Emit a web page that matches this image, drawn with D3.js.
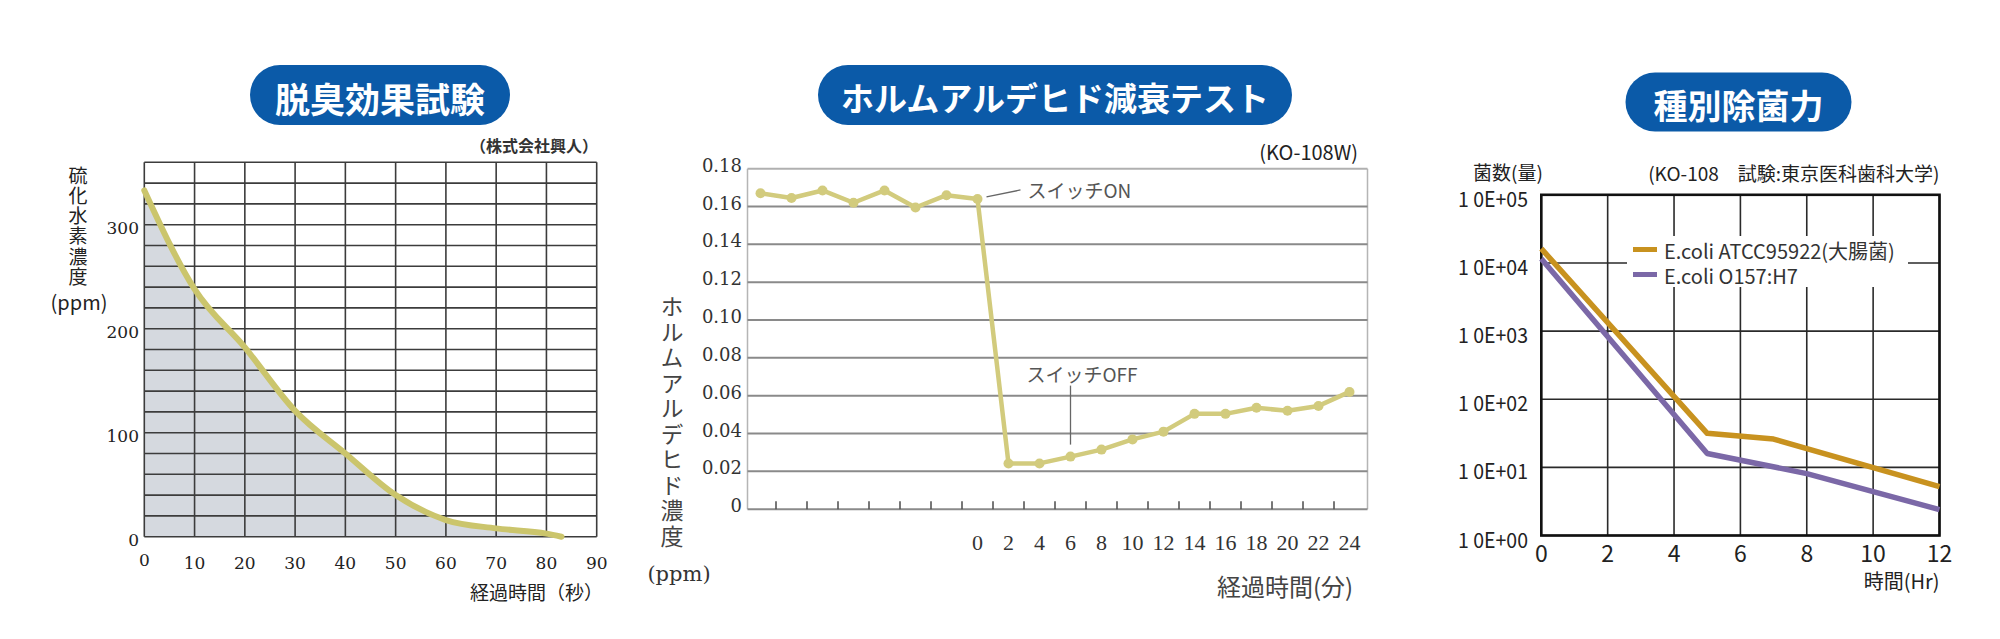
<!DOCTYPE html>
<html>
<head>
<meta charset="utf-8">
<script src="https://cdn.jsdelivr.net/npm/d3@7"></script>
<style>
  html, body { margin: 0; padding: 0; background: #fff; }
  svg { display: block; }
</style>
</head>
<body>
<script>
// ---------- DATA ----------
// Chart 1: 脱臭効果試験
const odorTitle = "脱臭効果試験";
const odorTime = [0, 10, 20, 30, 40, 50, 60, 70, 80, 83];
const odorH2S = [333, 238, 182, 121, 80, 40, 16, 8, 3, 0];
const odorXTicks = [0, 10, 20, 30, 40, 50, 60, 70, 80, 90];
const odorYTicks = [0, 100, 200, 300];
const odorGridY = [0, 20, 40, 60, 80, 100, 120, 140, 160, 180, 200, 220, 240, 260, 280, 300, 320, 340, 360];

// Chart 2: ホルムアルデヒド減衰テスト
const formTitle = "ホルムアルデヒド減衰テスト";
const formTime = [-14, -12, -10, -8, -6, -4, -2, 0, 2, 4, 6, 8, 10, 12, 14, 16, 18, 20, 22, 24];
const formConc = [0.167, 0.1645, 0.1685, 0.162, 0.1685, 0.1595, 0.166, 0.164,
                  0.0242, 0.0242, 0.0278, 0.0315, 0.0369, 0.041, 0.0504, 0.0504, 0.0536, 0.052, 0.0546, 0.062];
const formTickMarks = [-13, -11, -9, -7, -5, -3, -1, 1, 3, 5, 7, 9, 11, 13, 15, 17, 19, 21, 23];
const formXLabels = [0, 2, 4, 6, 8, 10, 12, 14, 16, 18, 20, 22, 24];
const formYTicks = [0, 0.02, 0.04, 0.06, 0.08, 0.10, 0.12, 0.14, 0.16, 0.18];
const formYLabels = ["0", "0.02", "0.04", "0.06", "0.08", "0.10", "0.12", "0.14", "0.16", "0.18"];

// Chart 3: 種別除菌力
const bactTitle = "種別除菌力";
const bactSeriesNames = ["E.coli ATCC95922(大腸菌)", "E.coli O157:H7"];
const atccTime = [0, 5, 7, 12];
const atccCount = [16200, 31.6, 26, 5.2];
const o157Time = [0, 5, 8, 12];
const o157Count = [11500, 16, 8.1, 2.4];
const bactXTicks = [0, 2, 4, 6, 8, 10, 12];
const bactYTicks = [1, 10, 100, 1000, 10000, 100000];
const bactYLabels = ["1 0E+00", "1 0E+01", "1 0E+02", "1 0E+03", "1 0E+04", "1 0E+05"];

// ---------- SVG ----------
const SANS = "'Noto Sans CJK JP', 'Noto Sans', sans-serif";
const SERIF = "'DejaVu Serif', serif";
const SERIF2 = "'Liberation Serif', serif";

const svg = d3.select("body").append("svg")
  .attr("width", 2000).attr("height", 639)
  .attr("font-family", SANS)
  .style("background", "#fff");

const PILL = "#0b5aa8";
function pill(cx, cy, w, h, label, fs) {
  svg.append("rect").attr("x", cx - w / 2).attr("y", cy - h / 2)
    .attr("width", w).attr("height", h).attr("rx", h / 2).attr("ry", h / 2)
    .attr("fill", PILL);
  svg.append("text").attr("x", cx).attr("y", cy + 2)
    .attr("text-anchor", "middle").attr("dominant-baseline", "central")
    .attr("fill", "#fff").attr("font-weight", 700).attr("font-size", fs)
    .text(label);
}

// ====================== Chart 1 ======================
{
  const x = d3.scaleLinear([0, 90], [144.3, 596.7]);
  const y = d3.scaleLinear([0, 360], [536.7, 162.3]);
  const g = svg.append("g");
  pill(380, 95, 260, 60, odorTitle, 35);

  const pts = odorTime.map((t, i) => [t, odorH2S[i]]);
  g.append("path").datum(pts)
    .attr("d", d3.area().x(d => x(d[0])).y0(y(0)).y1(d => y(d[1])).curve(d3.curveMonotoneX))
    .attr("fill", "#d5d9df");
  g.selectAll(".hg").data(odorGridY).join("line")
    .attr("x1", x(0)).attr("x2", x(90)).attr("y1", d => y(d)).attr("y2", d => y(d))
    .attr("stroke", "#3c3c3c").attr("stroke-width", 1.6);
  g.selectAll(".vg").data(odorXTicks).join("line")
    .attr("y1", y(0)).attr("y2", y(360)).attr("x1", d => x(d)).attr("x2", d => x(d))
    .attr("stroke", "#3c3c3c").attr("stroke-width", 1.6);
  g.append("path").datum(pts)
    .attr("d", d3.line().x(d => x(d[0])).y(d => y(d[1])).curve(d3.curveMonotoneX))
    .attr("fill", "none").attr("stroke", "#cbc56c").attr("stroke-width", 6)
    .attr("stroke-linecap", "round");
  g.selectAll(".yl").data(odorYTicks).join("text")
    .attr("x", 139).attr("y", d => y(d) + 9)
    .attr("text-anchor", "end").attr("font-family", SERIF).attr("font-size", 17)
    .attr("fill", "#222").text(d => d);
  g.selectAll(".xl").data(odorXTicks).join("text")
    .attr("x", d => x(d)).attr("y", (d, i) => i === 0 ? 566 : 569)
    .attr("text-anchor", "middle").attr("font-family", SERIF).attr("font-size", 17)
    .attr("fill", "#222").text(d => d);
  g.append("text").attr("x", 603).attr("y", 591).attr("text-anchor", "end")
    .attr("dominant-baseline", "central").attr("font-size", 19).attr("fill", "#222")
    .text("経過時間（秒）");
  g.append("text").attr("x", 78).attr("y", 166)
    .attr("writing-mode", "vertical-rl").attr("dominant-baseline", "central")
    .attr("font-size", 19).attr("letter-spacing", 1.2).attr("fill", "#222")
    .text("硫化水素濃度");
  g.append("text").attr("x", 79).attr("y", 301).attr("text-anchor", "middle")
    .attr("dominant-baseline", "central").attr("font-size", 20).attr("fill", "#222")
    .text("(ppm)");
  g.append("text").attr("x", 598).attr("y", 145).attr("text-anchor", "end")
    .attr("dominant-baseline", "central").attr("font-size", 16).attr("font-weight", 700)
    .attr("fill", "#333").text("（株式会社興人）");
}

// ====================== Chart 2 ======================
{
  const x = d3.scaleLinear([-15, 25], [745, 1365]);
  const y = d3.scaleLinear([0, 0.18], [509.2, 168.7]);
  const g = svg.append("g");
  pill(1055, 95, 474, 60, formTitle, 33);

  g.append("line").attr("x1", x(-15) + 2.5).attr("x2", x(-15) + 2.5).attr("y1", y(0)).attr("y2", y(0.18))
    .attr("stroke", "#b5b5b5").attr("stroke-width", 1.5);
  g.append("line").attr("x1", x(25) + 2.5).attr("x2", x(25) + 2.5).attr("y1", y(0)).attr("y2", y(0.18))
    .attr("stroke", "#b5b5b5").attr("stroke-width", 1.5);
  g.selectAll(".hg").data(formYTicks).join("line")
    .attr("x1", x(-15) + 2.5).attr("x2", x(25) + 2.5).attr("y1", d => y(d)).attr("y2", d => y(d))
    .attr("stroke", d => d === 0.18 ? "#b0b0b0" : "#8a8a8a").attr("stroke-width", 2);
  g.selectAll(".tk").data(formTickMarks).join("line")
    .attr("x1", d => x(d)).attr("x2", d => x(d)).attr("y1", y(0)).attr("y2", y(0) - 8)
    .attr("stroke", "#555").attr("stroke-width", 1.6);
  g.selectAll(".yl").data(formYTicks).join("text")
    .attr("x", 742).attr("y", d => y(d) + 3)
    .attr("text-anchor", "end").attr("font-family", SERIF).attr("font-size", 18)
    .attr("fill", "#333").text((d, i) => formYLabels[i]);
  g.selectAll(".xl").data(formXLabels).join("text")
    .attr("x", d => x(d)).attr("y", 550)
    .attr("text-anchor", "middle").attr("font-family", SERIF2).attr("font-size", 22)
    .attr("fill", "#333").text(d => d);
  const pts = formTime.map((t, i) => [t, formConc[i]]);
  g.append("path").datum(pts)
    .attr("d", d3.line().x(d => x(d[0])).y(d => y(d[1])))
    .attr("fill", "none").attr("stroke", "#d2cb7d").attr("stroke-width", 4.5)
    .attr("stroke-linejoin", "round");
  g.selectAll(".pt").data(pts).join("circle")
    .attr("cx", d => x(d[0])).attr("cy", d => y(d[1])).attr("r", 5)
    .attr("fill", "#d2cb7d");
  const onX = x(0), onY = y(formConc[7]);
  g.append("line").attr("x1", onX + 9).attr("y1", onY - 2).attr("x2", onX + 43).attr("y2", onY - 9)
    .attr("stroke", "#666").attr("stroke-width", 1.3);
  g.append("text").attr("x", onX + 50).attr("y", onY - 9).attr("dominant-baseline", "central")
    .attr("font-size", 19).attr("fill", "#555").text("スイッチON");
  const offX = x(6), offY = y(formConc[10]);
  g.append("line").attr("x1", offX).attr("x2", offX).attr("y1", offY - 12).attr("y2", offY - 71)
    .attr("stroke", "#666").attr("stroke-width", 1.3);
  g.append("text").attr("x", offX - 44).attr("y", offY - 83).attr("dominant-baseline", "central")
    .attr("font-size", 19).attr("fill", "#555").text("スイッチOFF");
  g.append("text").attr("x", 1358).attr("y", 151).attr("text-anchor", "end")
    .attr("dominant-baseline", "central").attr("font-size", 20).attr("fill", "#222")
    .text("(KO-108W)");
  g.append("text").attr("x", 672).attr("y", 295)
    .attr("writing-mode", "vertical-rl").attr("dominant-baseline", "central")
    .attr("font-size", 23).attr("letter-spacing", 2.5).attr("fill", "#444")
    .text("ホルムアルデヒド濃度");
  g.append("text").attr("x", 679).attr("y", 581).attr("text-anchor", "middle")
    .attr("font-family", SERIF).attr("font-size", 21).attr("fill", "#333")
    .text("(ppm)");
  g.append("text").attr("x", 1217).attr("y", 585)
    .attr("dominant-baseline", "central").attr("font-size", 24).attr("fill", "#444")
    .text("経過時間(分)");
}

// ====================== Chart 3 ======================
{
  const x = d3.scaleLinear([0, 12], [1541.3, 1939.5]);
  const y = d3.scaleLog([1, 1e5], [535.5, 194.8]);
  const g = svg.append("g");
  pill(1738.5, 102, 226, 59, bactTitle, 34);

  g.selectAll(".hg").data(bactYTicks).join("line")
    .attr("x1", x(0)).attr("x2", x(12)).attr("y1", d => y(d)).attr("y2", d => y(d))
    .attr("stroke", "#2a2a2a").attr("stroke-width", 1.6);
  g.selectAll(".vg").data(bactXTicks).join("line")
    .attr("x1", d => x(d)).attr("x2", d => x(d)).attr("y1", y(1)).attr("y2", y(1e5))
    .attr("stroke", "#2a2a2a").attr("stroke-width", 1.6);
  g.append("rect").attr("x", x(0)).attr("y", y(1e5)).attr("width", x(12) - x(0)).attr("height", y(1) - y(1e5))
    .attr("fill", "none").attr("stroke", "#111").attr("stroke-width", 2.6);

  g.append("rect").attr("x", 1627).attr("y", 236).attr("width", 281).attr("height", 51).attr("fill", "#fff");

  const colors = ["#c8921f", "#7b68a7"];
  const series = [
    atccTime.map((t, i) => [t, atccCount[i]]),
    o157Time.map((t, i) => [t, o157Count[i]])
  ];
  g.selectAll(".ser").data(series).join("path")
    .attr("d", d3.line().x(d => x(d[0])).y(d => y(d[1])))
    .attr("fill", "none").attr("stroke", (d, i) => colors[i]).attr("stroke-width", 5.5)
    .attr("stroke-linejoin", "round");
  bactSeriesNames.forEach((name, i) => {
    const ly = 249.5 + i * 25;
    g.append("line").attr("x1", 1633).attr("x2", 1657).attr("y1", ly).attr("y2", ly)
      .attr("stroke", colors[i]).attr("stroke-width", 5);
    g.append("text").attr("x", 1664).attr("y", ly + 1).attr("dominant-baseline", "central")
      .attr("font-size", 20).attr("fill", "#333").text(name);
  });
  g.selectAll(".yl").data(bactYTicks).join("text")
    .attr("x", 1528).attr("y", d => y(d) + 12)
    .attr("text-anchor", "end").attr("font-size", 21).attr("fill", "#222")
    .attr("textLength", 70).attr("lengthAdjust", "spacingAndGlyphs")
    .text((d, i) => bactYLabels[i]);
  g.selectAll(".xl").data(bactXTicks).join("text")
    .attr("x", d => x(d)).attr("y", 562)
    .attr("text-anchor", "middle").attr("font-size", 23).attr("fill", "#222")
    .text(d => d);
  g.append("text").attr("x", 1939.5).attr("y", 580).attr("text-anchor", "end")
    .attr("dominant-baseline", "central").attr("font-size", 20).attr("fill", "#222")
    .text("時間(Hr)");
  g.append("text").attr("x", 1473).attr("y", 171)
    .attr("dominant-baseline", "central").attr("font-size", 19).attr("fill", "#222")
    .text("菌数(量)");
  g.append("text").attr("x", 1939.5).attr("y", 172).attr("text-anchor", "end")
    .attr("dominant-baseline", "central").attr("font-size", 19).attr("fill", "#222")
    .text("(KO-108　試験:東京医科歯科大学)");
}
</script>
</body>
</html>
